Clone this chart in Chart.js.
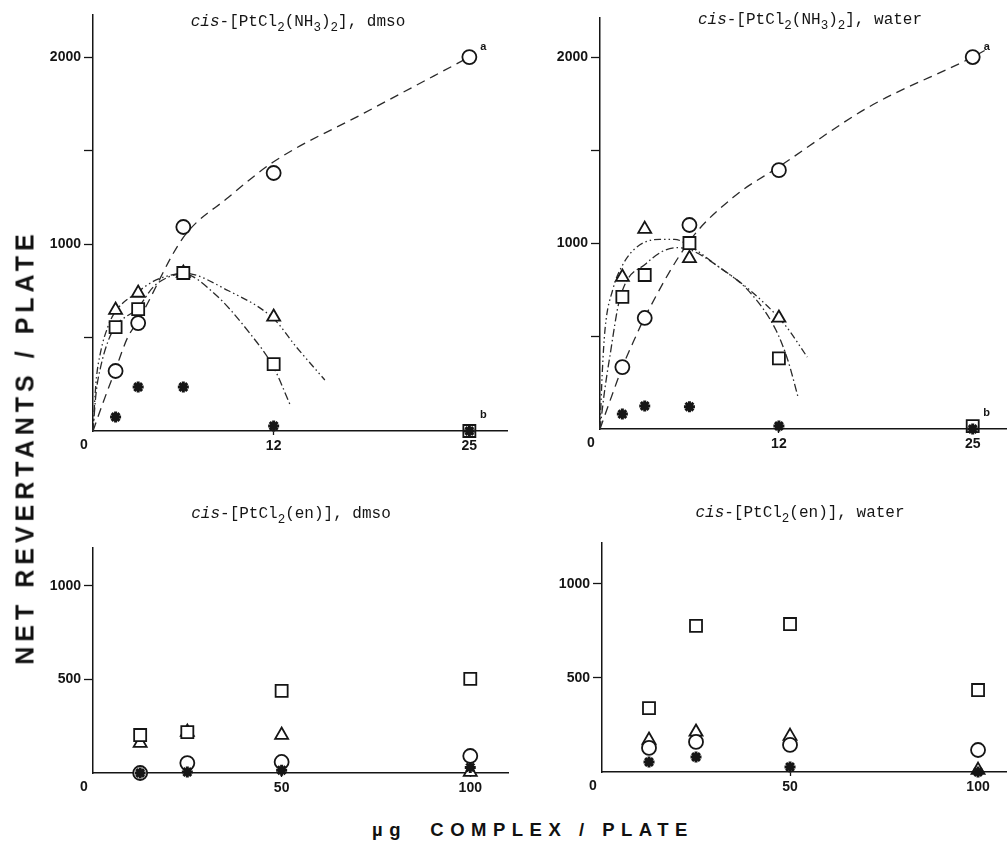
<!DOCTYPE html>
<html>
<head>
<meta charset="utf-8">
<script src="https://cdn.jsdelivr.net/npm/chart.js@4.4.0/dist/chart.umd.min.js"></script>
<style>
  body { margin: 0; background: #fff; width: 1007px; height: 842px; position: relative; overflow: hidden; }
  canvas { position: absolute; }
  .axis-title { position: absolute; font-family: 'Liberation Sans', Arial, sans-serif; font-weight: bold; color: #111; white-space: pre; }
</style>
</head>
<body>
<canvas id="tl" width="510" height="460" style="left:0;top:0"></canvas>
<canvas id="tr" width="507" height="460" style="left:500px;top:0"></canvas>
<canvas id="bl" width="510" height="340" style="left:0;top:470px"></canvas>
<canvas id="br" width="507" height="340" style="left:500px;top:470px"></canvas>
<div class="axis-title" id="ytitle" style="left:25px;top:447px;font-size:25px;letter-spacing:5px;transform:translate(-50%,-50%) rotate(-90deg)">NET REVERTANTS / PLATE</div>
<div class="axis-title" id="xtitle" style="left:533px;top:830px;font-size:18.5px;letter-spacing:6.5px;transform:translate(-50%,-50%)">µg  COMPLEX / PLATE</div>
<script>
// cis-[PtCl2(NH3)2], dmso
const tlDose = [1.5, 3, 6, 12, 25];
const tlCircle = [321, 577, 1091, 1380, 2000];
const tlSquare = [556, 652, 845, 358, 0];
const tlTriangle = [647, 738, 845, 610, null];
const tlStar = [75, 235, 235, 27, 0];
const tlCircleFitX = [0, 0.66, 1.5, 2.3, 3, 6, 9, 12, 18, 25];
const tlCircleFitY = [0, 150, 330, 500, 590, 1035, 1250, 1440, 1700, 2000];
const tlTriangleFitX = [0, 0.2, 0.5, 1, 1.5, 3, 4, 5, 6, 9, 12, 13.5, 15.4];
const tlTriangleFitY = [0, 260, 420, 560, 640, 745, 800, 830, 845, 750, 600, 450, 273];
const tlSquareFitX = [0, 0.2, 0.5, 1, 1.5, 3, 4, 5, 6, 8, 10.4, 12, 13.1];
const tlSquareFitY = [0, 200, 340, 480, 560, 660, 770, 823, 840, 740, 524, 340, 139];

// cis-[PtCl2(NH3)2], water
const trDose = [1.5, 3, 6, 12, 25];
const trCircle = [333, 597, 1097, 1392, 2000];
const trSquare = [710, 828, 1000, 380, 15];
const trTriangle = [817, 1075, 918, 597, null];
const trStar = [80, 124, 120, 16, 0];
const trCircleFitX = [0, 1, 1.5, 2.2, 3, 6, 9, 12, 18, 25, 25.8];
const trCircleFitY = [0, 225, 333, 462, 600, 1010, 1250, 1410, 1730, 2000, 2035];
const trTriangleFitX = [0, 0.15, 0.33, 0.86, 1.5, 2.5, 4, 5, 6, 8, 10, 12.4, 13.9];
const trTriangleFitY = [0, 300, 530, 750, 880, 980, 1020, 1020, 985, 870, 750, 560, 387];
const trSquareFitX = [0, 0.3, 0.66, 1.33, 3.1, 5.1, 6, 8, 10.1, 11.8, 12.6, 13.3];
const trSquareFitY = [0, 200, 390, 700, 890, 975, 965, 870, 731, 532, 370, 167];

// cis-[PtCl2(en)], dmso
const blDose = [12.5, 25, 50, 100];
const blSquare = [203, 219, 439, 503];
const blTriangle = [160, 219, 203, 5];
const blCircle = [0, 53, 59, 91];
const blStar = [0, 5, 15, 30];

// cis-[PtCl2(en)], water
const brDose = [12.5, 25, 50, 100];
const brSquare = [340, 777, 787, 436];
const brTriangle = [170, 213, 191, 10];
const brCircle = [128, 160, 144, 117];
const brStar = [53, 80, 27, 0];

const INK = '#151515';
const MONO = "'Liberation Mono', 'DejaVu Sans Mono', monospace";
Chart.defaults.font.family = "'Liberation Sans', Arial, sans-serif";
Chart.defaults.font.weight = 'bold';
Chart.defaults.font.size = 14;
Chart.defaults.color = INK;

function pts(xs, ys) {
    return xs.map((x, i) => ({ x: x, y: ys[i] })).filter(p => p.y !== null);
}

function markers(dose, vals, style, order) {
    let opts = {
        data: pts(dose, vals),
        pointStyle: style,
        pointRadius: 7,
        pointBorderWidth: 1.8,
        pointBorderColor: INK,
        pointBackgroundColor: '#fff',
        showLine: false,
        order: order
    };
    if (style === 'rect') opts.pointRadius = 8.5;
    if (style === 'triangle') opts.pointRadius = 7.5;
    if (style === 'star') {
        opts.pointRadius = 5.5;
        opts.pointBorderWidth = 3;
        opts.pointBackgroundColor = INK;
    }
    return opts;
}

function fit(xs, ys, dash) {
    return {
        data: pts(xs, ys),
        showLine: true,
        pointRadius: 0,
        borderColor: '#2a2a2a',
        borderWidth: 1.3,
        borderDash: dash,
        cubicInterpolationMode: 'monotone',
        order: 10
    };
}

// title with italic "cis" and subscripts, notes a / b, corner zero
function overlay(title, titleX, titleY, notes) {
    return {
        id: 'overlay',
        afterDraw(chart) {
            const ctx = chart.ctx, a = chart.chartArea;
            const xs = chart.scales.x, ys = chart.scales.y;
            ctx.save();
            ctx.fillStyle = INK;
            ctx.textBaseline = 'alphabetic';
            ctx.textAlign = 'left';
            const fontOf = k => k === 'i' ? 'italic 16px ' + MONO : (k === 's' ? '12.5px ' + MONO : '16px ' + MONO);
            let total = 0;
            title.forEach(r => { ctx.font = fontOf(r[1]); total += ctx.measureText(r[0]).width; });
            let x = titleX - total / 2;
            title.forEach(r => {
                ctx.font = fontOf(r[1]);
                ctx.fillText(r[0], x, titleY + (r[1] === 's' ? 5 : 0));
                x += ctx.measureText(r[0]).width;
            });
            ctx.font = "bold 14px 'Liberation Sans', Arial, sans-serif";
            ctx.textAlign = 'center';
            ctx.textBaseline = 'middle';
            ctx.fillText('0', a.left - 9, a.bottom + 14);
            ctx.font = "bold 11px 'Liberation Sans', Arial, sans-serif";
            notes.forEach(n => {
                ctx.fillText(n.text, xs.getPixelForValue(n.x) + n.dx, ys.getPixelForValue(n.y) + n.dy);
            });
            ctx.restore();
        }
    };
}

function panel(id, p) {
    let datasets = p.fits.concat([
        markers(p.dose, p.star, 'star', 0),
        markers(p.dose, p.circle, 'circle', 1),
        markers(p.dose, p.square, 'rect', 2),
        markers(p.dose, p.triangle, 'triangle', 3)
    ]);
    return new Chart(document.getElementById(id), {
        type: 'scatter',
        data: { datasets: datasets },
        options: {
            responsive: false,
            animation: false,
            clip: false,
            layout: { padding: p.padding, autoPadding: false },
            plugins: { legend: { display: false }, tooltip: { enabled: false } },
            scales: {
                x: {
                    type: 'linear', min: 0, max: p.xMax,
                    afterBuildTicks: s => { s.ticks = p.xTicks.map(v => ({ value: v })); },
                    afterFit: s => { s.height = 25; s.paddingLeft = 0; s.paddingRight = 0; },
                    border: { color: INK, width: 1.5 },
                    grid: { drawOnChartArea: false, tickLength: 4, tickColor: INK, tickWidth: 1.3 },
                    ticks: { padding: 3, autoSkip: false, maxRotation: 0, callback: v => String(v) }
                },
                y: {
                    type: 'linear', min: 0, max: p.yMax,
                    afterBuildTicks: s => { s.ticks = p.yTicks.map(v => ({ value: v })); },
                    afterFit: s => { s.width = p.yWidth; s.paddingTop = 0; s.paddingBottom = 0; },
                    border: { color: INK, width: 1.5 },
                    grid: { drawOnChartArea: false, tickLength: 9, tickColor: INK, tickWidth: 1.3 },
                    ticks: { padding: 3, autoSkip: false, callback: v => p.yLabels.includes(v) ? String(v) : '' }
                }
            }
        },
        plugins: [overlay(p.title, p.titleX, p.titleY, p.notes)]
    });
}

const DASH = [9, 6];
const DASH_DOT = [8, 3, 1.5, 3];
const DASH_DOT_DOT = [7, 3, 1.5, 3, 1.5, 3];

const ammineTitle = solvent => [['cis', 'i'], ['-[PtCl', ''], ['2', 's'], ['(NH', ''], ['3', 's'], [')', ''], ['2', 's'], ['], ' + solvent, '']];
const enTitle = solvent => [['cis', 'i'], ['-[PtCl', ''], ['2', 's'], ['(en)], ' + solvent, '']];

panel('tl', {
    dose: tlDose, circle: tlCircle, square: tlSquare, triangle: tlTriangle, star: tlStar,
    fits: [fit(tlCircleFitX, tlCircleFitY, DASH), fit(tlTriangleFitX, tlTriangleFitY, DASH_DOT_DOT), fit(tlSquareFitX, tlSquareFitY, DASH_DOT)],
    xMax: 27.5, yMax: 2225, xTicks: [12, 25], yTicks: [500, 1000, 1500, 2000], yLabels: [1000, 2000],
    yWidth: 93, padding: { top: 15, right: 3, bottom: 4, left: 0 },
    title: ammineTitle('dmso'), titleX: 298, titleY: 26,
    notes: [{ text: 'a', x: 25, y: 2000, dx: 14, dy: -10 }, { text: 'b', x: 25, y: 0, dx: 14, dy: -16 }]
});

panel('tr', {
    dose: trDose, circle: trCircle, square: trSquare, triangle: trTriangle, star: trStar,
    fits: [fit(trCircleFitX, trCircleFitY, DASH), fit(trTriangleFitX, trTriangleFitY, DASH_DOT_DOT), fit(trSquareFitX, trSquareFitY, DASH_DOT)],
    xMax: 27.3, yMax: 2210, xTicks: [12, 25], yTicks: [500, 1000, 1500, 2000], yLabels: [1000, 2000],
    yWidth: 100, padding: { top: 18, right: 0, bottom: 6, left: 0 },
    title: ammineTitle('water'), titleX: 310, titleY: 24,
    notes: [{ text: 'a', x: 25, y: 2000, dx: 14, dy: -10 }, { text: 'b', x: 25, y: 0, dx: 14, dy: -16 }]
});

panel('bl', {
    dose: blDose, circle: blCircle, square: blSquare, triangle: blTriangle, star: blStar,
    fits: [],
    xMax: 110, yMax: 1203, xTicks: [50, 100], yTicks: [500, 1000], yLabels: [500, 1000],
    yWidth: 93, padding: { top: 78, right: 2, bottom: 12, left: 0 },
    title: enTitle('dmso'), titleX: 291, titleY: 48,
    notes: []
});

panel('br', {
    dose: brDose, circle: brCircle, square: brSquare, triangle: brTriangle, star: brStar,
    fits: [],
    xMax: 107.7, yMax: 1218, xTicks: [50, 100], yTicks: [500, 1000], yLabels: [500, 1000],
    yWidth: 102, padding: { top: 73, right: 0, bottom: 13, left: 0 },
    title: enTitle('water'), titleX: 300, titleY: 47,
    notes: []
});
</script>
</body>
</html>
